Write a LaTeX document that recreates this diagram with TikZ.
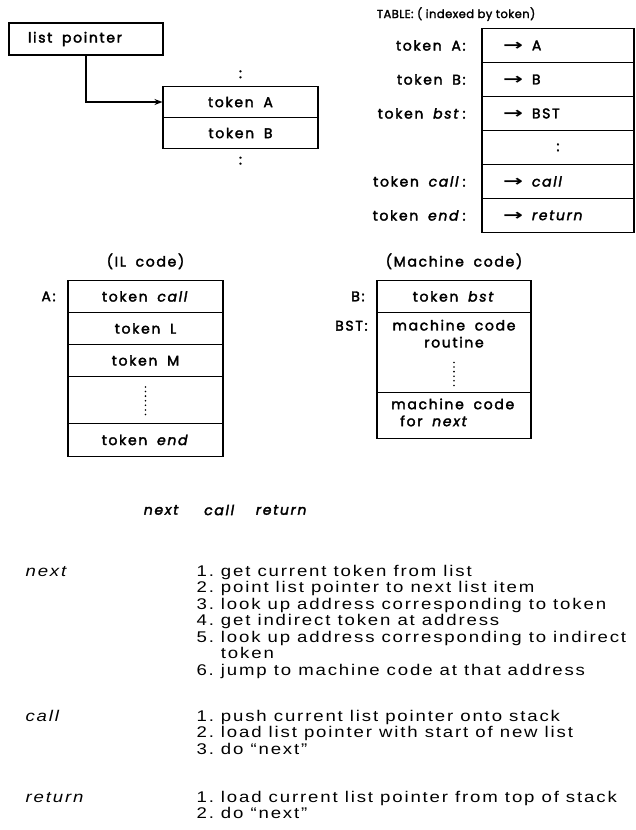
\documentclass[tikz,border=0pt]{standalone}
\usepackage{fontspec}
\setmainfont{Liberation Sans}
\newfontfamily\diafont{Poppins}[LetterSpace=12,WordSpace=1.8,FakeBold=2.4]
\newfontfamily\titlefont{Poppins}[LetterSpace=4,FakeBold=2]
\newfontfamily\txtfont{Liberation Sans}[FakeStretch=1.2,LetterSpace=12]
\newfontfamily\arrfont{DejaVu Sans}
\usetikzlibrary{matrix,positioning,arrows.meta}

\newcommand{\ptr}{\scalebox{1.7}[1.1]{\arrfont\bfseries →}\hspace{9pt}}
\tikzset{
	cellbox/.style={draw, anchor=center},
	dotrun/.style={line width=1.8pt, line cap=round, dash pattern=on 0pt off 4.6pt},
	smalltitle/.style={font=\titlefont\fontsize{11.5}{14}\selectfont},
	steptext/.style={font=\txtfont\fontsize{15.5}{16.5}\selectfont, inner sep=0pt, anchor=north west}
}

\begin{document}
\begin{tikzpicture}[x=1pt, y=-1pt, line width=1.1pt, every node/.style={font=\diafont\fontsize{14}{17}\selectfont}]
	\useasboundingbox (0,0) rectangle (635,830);

	% list pointer and the list it points into
	\node[draw, minimum height=32pt, text width=116pt, inner xsep=19pt, align=left] (lp) at (86,39) {list\hspace{5pt} pointer};
	\matrix (L) [matrix of nodes, nodes={cellbox, minimum width=155pt, minimum height=31pt}, row sep=-\pgflinewidth] at (240.5,117.5) {
		token A \\
		token B \\
	};
	\node[above=0pt of L.north] (Ltop) {:};
	\node[below=0pt of L.south] (Lbot) {:};
	\draw[-{Stealth[length=8pt,width=6pt]}] (lp.south) |- (L-1-1.west);

	% table indexed by token
	\node[smalltitle, anchor=base west] (ttl) at (373,18) {TABLE: ( indexed by token)};
	\matrix (T) [matrix of nodes, nodes={cellbox, minimum width=152pt, minimum height=34pt, text width=110pt, align=left}, row sep=-\pgflinewidth, anchor=north] at (558,24) {
		\ptr A \\
		\ptr B \\
		\ptr BST \\
		|[align=center]| : \\
		\ptr \textit{call} \\
		\ptr \textit{return} \\
	};
	\foreach \r/\lbl in {1/token A:, 2/token B:, 3/token \textit{bst}\,:, 5/token \textit{call}\,:, 6/token \textit{end}\,:}
		\node[left=12pt of T-\r-1.west] (tl\r) {\lbl};

	% IL code
	\matrix (I) [matrix of nodes, nodes={cellbox, minimum width=155pt, minimum height=32pt}, row sep=-\pgflinewidth, anchor=north] at (145.5,276) {
		token \textit{call} \\
		token L \\
		token M \\
		|[minimum height=47pt]| \mbox{} \\
		|[minimum height=33pt]| token \textit{end} \\
	};
	\node[above=3pt of I.north] (ilt) {(IL code)};
	\node[left=8pt of I-1-1.west] (la) {A:};
	\draw[dotrun] ([yshift=13pt]I-4-1.center) -- ([yshift=-18pt]I-4-1.center);

	% machine code
	\matrix (M) [matrix of nodes, nodes={cellbox, minimum width=154pt, minimum height=32pt}, row sep=-\pgflinewidth, anchor=north] at (454,276) {
		token \textit{bst} \\
		|[minimum height=80pt]| \mbox{} \\
		|[minimum height=46pt]| \mbox{} \\
	};
	\node[above=3pt of M.north] (mct) {(Machine code)};
	\node[left=8pt of M-1-1.west] (lb) {B:};
	\node[anchor=north east] (lbst) at ([xshift=-5pt,yshift=-5pt]M-2-1.north west) {BST:};
	\node[anchor=north, align=center] (rt) at ([yshift=-4pt]M-2-1.north) {machine code\\routine};
	\draw[dotrun] ([yshift=-10pt]M-2-1.center) -- ([yshift=-33pt]M-2-1.center);
	\node[anchor=west, align=left] (mn) at ([xshift=11pt,yshift=3pt]M-3-1.west) {machine code\\\hspace*{9pt}for \textit{next}};

	% the three routines
	\node (op1) at (162,510) {\textit{next}};
	\node (op2) at (220,510) {\textit{call}};
	\node (op3) at (282,510) {\textit{return}};

	\node[steptext] (nextops) at (25,564) {\begin{tabular}{@{}p{171pt}@{}l@{}}
		\textit{next} & 1.\ get current token from list \\
		& 2.\ point list pointer to next list item \\
		& 3.\ look up address corresponding to token \\
		& 4.\ get indirect token at address \\
		& 5.\ look up address corresponding to indirect \\
		& \phantom{5.\ }token \\
		& 6.\ jump to machine code at that address
	\end{tabular}};
	\node[steptext] (callops) at (25,709) {\begin{tabular}{@{}p{171pt}@{}l@{}}
		\textit{call} & 1.\ push current list pointer onto stack \\
		& 2.\ load list pointer with start of new list \\
		& 3.\ do “next”
	\end{tabular}};
	\node[steptext] (returnops) at (25,790) {\begin{tabular}{@{}p{171pt}@{}l@{}}
		\textit{return} & 1.\ load current list pointer from top of stack \\
		& 2.\ do “next”
	\end{tabular}};
\end{tikzpicture}
\end{document}
